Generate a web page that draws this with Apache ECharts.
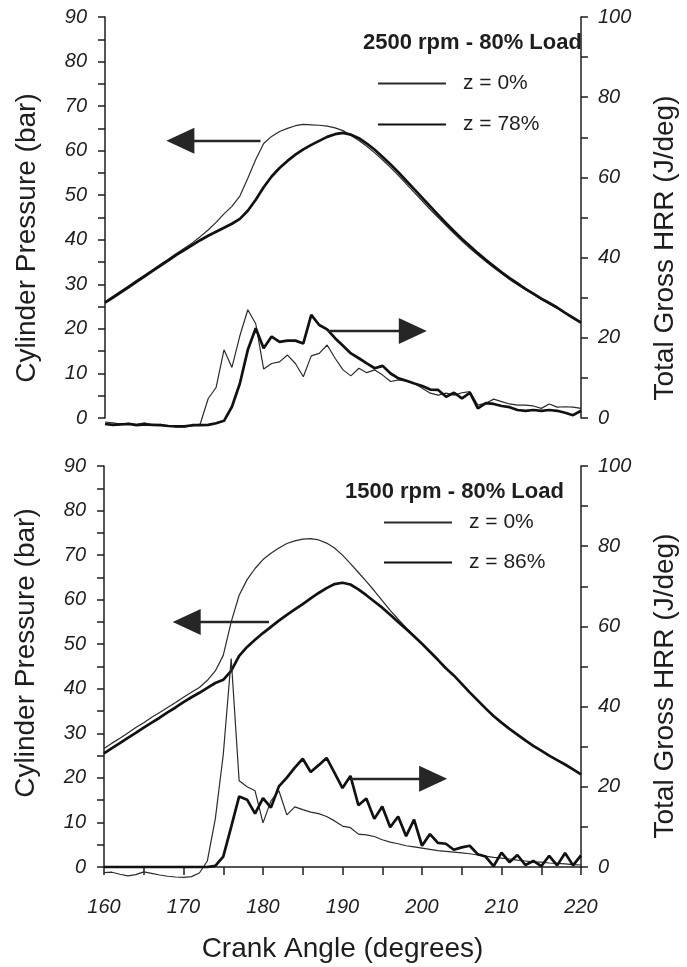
<!DOCTYPE html>
<html><head><meta charset="utf-8">
<script src="https://cdn.jsdelivr.net/npm/echarts@6/dist/echarts.min.js"></script>
<style>html,body{margin:0;padding:0;background:#fff}#c{width:687px;height:967px}</style>
</head><body><div id="c"></div>
<script>
// Crank angle (degrees)
const crankAngle = [160,161,162,163,164,165,166,167,168,169,170,171,172,173,174,175,176,177,178,179,180,181,182,183,184,185,186,187,188,189,190,191,192,193,194,195,196,197,198,199,200,201,202,203,204,205,206,207,208,209,210,211,212,213,214,215,216,217,218,219,220];

// Top panel: 2500 rpm - 80% Load
const topPressure0 = [26.1,27.3,28.5,29.7,30.9,32.1,33.3,34.5,35.7,36.9,38.1,39.3,40.7,42.2,43.9,45.8,47.5,49.8,53.8,58.0,61.6,63.2,64.3,65.0,65.6,65.9,65.8,65.7,65.5,65.1,64.5,63.4,62.3,61.0,59.5,57.9,56.2,54.4,52.5,50.6,48.7,46.8,45.0,43.2,41.4,39.7,38.1,36.6,35.1,33.7,32.4,31.1,29.9,28.8,27.7,26.6,25.6,24.6,23.5,22.4,21.3];
const topPressure78 = [25.9,27.0,28.2,29.4,30.6,31.8,33.0,34.2,35.4,36.6,37.7,38.8,39.9,40.9,41.8,42.7,43.6,44.7,46.5,49.0,51.8,54.2,56.1,57.7,59.1,60.3,61.3,62.2,63.1,63.7,64.0,63.6,62.8,61.6,60.2,58.6,56.9,55.1,53.2,51.3,49.4,47.5,45.6,43.7,41.9,40.2,38.6,37.0,35.5,34.1,32.7,31.4,30.2,29.0,27.9,26.8,25.8,24.8,23.6,22.5,21.4];
const topHRR0 = [-1.0,-1.2,-1.5,-1.3,-1.6,-1.2,-1.8,-1.6,-2.0,-2.2,-2.2,-2.0,-1.5,4.8,7.6,17.0,12.6,20.5,27.0,23.5,12.2,13.6,14.0,15.7,13.6,10.3,15.5,16.1,18.2,14.9,12.0,10.5,12.4,11.3,12.0,10.7,9.1,9.5,9.2,8.6,7.4,6.2,5.7,6.2,5.7,6.3,6.6,3.2,3.7,4.7,4.1,3.5,3.2,3.2,3.0,2.4,3.5,2.7,2.8,2.7,2.4];
const topHRR78 = [-1.5,-1.7,-1.6,-1.5,-1.8,-1.6,-1.7,-1.8,-2.0,-2.1,-2.1,-1.8,-1.8,-1.7,-1.3,-0.7,2.8,8.6,17.0,22.4,17.4,20.3,19.0,19.3,19.3,18.6,25.7,23.2,22.1,19.9,18.0,16.1,14.9,13.6,12.4,13.0,11.1,9.9,9.3,8.6,8.0,7.1,7.0,5.3,6.3,4.9,6.3,2.4,3.7,3.5,3.0,2.7,2.0,1.8,2.0,1.8,2.0,1.8,1.3,0.7,1.8];

// Bottom panel: 1500 rpm - 80% Load
const botPressure0 = [26.6,27.8,28.9,30.1,31.3,32.4,33.6,34.7,35.8,36.9,38.1,39.2,40.3,41.9,44.0,47.5,55.0,61.0,64.5,67.0,69.0,70.4,71.6,72.6,73.2,73.6,73.7,73.4,72.7,71.6,70.0,68.1,66.1,64.1,62.0,59.8,57.6,55.6,53.7,51.9,50.2,48.4,46.6,44.7,43.0,41.1,39.2,37.4,35.6,33.9,32.4,31.0,29.7,28.4,27.2,26.1,25.0,24.0,23.0,21.9,20.8];
const botPressure86 = [25.5,26.7,27.8,29.0,30.1,31.3,32.4,33.5,34.7,35.8,37.0,38.1,39.1,40.2,41.3,42.0,44.0,47.4,49.4,51.0,52.5,53.9,55.3,56.6,57.8,59.0,60.3,61.5,62.6,63.5,63.8,63.4,62.3,61.0,59.6,58.2,56.6,55.0,53.4,51.8,50.1,48.3,46.5,44.6,43.0,41.1,39.2,37.4,35.6,33.9,32.4,31.0,29.7,28.4,27.2,26.1,25.0,24.0,23.0,21.9,20.8];
const botHRR0 = [-1.4,-1.3,-1.8,-2.2,-1.9,-1.2,-1.6,-2.0,-2.3,-2.5,-2.6,-2.4,-1.5,1.5,12.0,28.0,52.0,21.5,20.0,19.0,11.0,16.5,19.0,13.0,15.0,14.3,13.7,13.3,12.6,11.5,10.2,9.8,8.2,8.0,7.6,6.8,6.2,5.8,5.3,5.0,4.7,4.4,4.1,3.9,3.7,3.5,3.3,3.0,2.7,2.4,2.2,2.0,1.7,1.5,1.3,1.2,1.0,0.9,0.8,0.6,0.5];
const botHRR86 = [0,0,0,0,0,0,0,0,0,0,0,0,0,0,0.3,2.6,10.0,17.6,16.8,13.3,17.2,14.8,20.1,22.3,24.8,27.0,23.7,25.4,27.2,23.5,19.7,22.7,15.4,17.1,12.0,15.1,9.9,12.6,7.7,11.8,5.3,8.2,6.0,5.8,4.3,4.9,5.3,3.2,2.6,0.2,3.6,1.2,3.0,0.5,1.5,0.2,2.8,0.4,3.5,0.4,2.9];

// Arrow annotations [crank angle, pressure] (start, end)
const topArrowLeft = [[179.6, 62.2], [169.5, 62.2]];
const topArrowRight = [[188.1, 19.5], [198.8, 19.5]];
const botArrowLeft = [[180.75, 55.0], [170.4, 55.0]];
const botArrowRight = [[191.0, 19.8], [201.4, 19.8]];

const FONT = "'Liberation Sans', Arial, Helvetica, sans-serif";
const INK = '#1e1e1e';
const thinStyle = {color: '#2b2b2b', width: 1.2};
const thickStyle = {color: '#111111', width: 2.7};

function pairs(ys) { return crankAngle.map((x, i) => [x, ys[i]]); }
function arrow(seg) { return [{coord: seg[0]}, {coord: seg[1]}]; }

function line(name, ys, style, xi, yi, extra) {
  return Object.assign({
    name, type: 'line', xAxisIndex: xi, yAxisIndex: yi, data: pairs(ys),
    showSymbol: false, symbol: 'none', clip: false, smooth: false,
    lineStyle: style, itemStyle: {color: style.color},
    emphasis: {disabled: true}, silent: true
  }, extra || {});
}

function arrows(list) {
  return {
    markLine: {
      silent: true, animation: false,
      symbol: ['none', 'triangle'], symbolSize: [26, 28],
      label: {show: false},
      emphasis: {disabled: true},
      lineStyle: {type: 'solid', color: '#262626', width: 2.4},
      itemStyle: {color: '#262626'},
      data: list.map(arrow)
    }
  };
}

const tickLine = {color: INK, width: 1.5};

function pressureAxis(gi, pad) {
  return {
    type: 'value', gridIndex: gi, position: 'left', min: 0, max: 90, interval: 10,
    axisLine: {show: true, onZero: false, lineStyle: tickLine},
    axisTick: {show: true, length: 7, lineStyle: tickLine},
    minorTick: {show: true, splitNumber: 2, length: 7, lineStyle: tickLine},
    splitLine: {show: false}, minorSplitLine: {show: false},
    axisLabel: {fontFamily: FONT, fontStyle: 'italic', fontSize: 20, color: INK, margin: 18},
    name: 'Cylinder Pressure (bar)', nameLocation: 'middle', nameGap: 64,
    nameTextStyle: {fontFamily: FONT, fontSize: 28, color: INK, padding: pad}
  };
}
function hrrAxis(gi, pad) {
  return {
    type: 'value', gridIndex: gi, position: 'right', min: 0, max: 100, interval: 20,
    axisLine: {show: true, onZero: false, lineStyle: tickLine},
    axisTick: {show: true, length: 7, lineStyle: tickLine},
    minorTick: {show: true, splitNumber: 2, length: 7, lineStyle: tickLine},
    splitLine: {show: false}, minorSplitLine: {show: false},
    axisLabel: {fontFamily: FONT, fontStyle: 'italic', fontSize: 20, color: INK, margin: 17},
    name: 'Total Gross HRR (J/deg)', nameLocation: 'middle', nameGap: 70,
    nameTextStyle: {fontFamily: FONT, fontSize: 28, color: INK, padding: pad}
  };
}

const legendBase = {
  orient: 'vertical', itemWidth: 68, itemHeight: 20, itemGap: 20, padding: 0,
  selectedMode: false,
  itemStyle: {color: 'rgba(0,0,0,0)', borderColor: 'rgba(0,0,0,0)', borderWidth: 0, opacity: 0},
  textStyle: {fontFamily: FONT, fontSize: 21, color: INK, padding: [0, 0, 0, 12]}
};

const option = {
  animation: false,
  backgroundColor: '#ffffff',
  title: [
    {text: '2500 rpm - 80% Load', left: 363, top: 32, padding: 0,
     textStyle: {fontFamily: FONT, fontSize: 22, fontWeight: 'bold', color: INK}},
    {text: '1500 rpm - 80% Load', left: 345, top: 481, padding: 0,
     textStyle: {fontFamily: FONT, fontSize: 22, fontWeight: 'bold', color: INK}}
  ],
  legend: [
    Object.assign({}, legendBase, {left: 377, top: 73, data: ['z = 0%', 'z = 78%']}),
    Object.assign({}, legendBase, {left: 383, top: 512, itemGap: 19, data: ['z = 0%', 'z = 86%']})
  ],
  grid: [
    {left: 105, top: 17, width: 480, height: 401, containLabel: false},
    {left: 104, top: 466, width: 479.5, height: 401, containLabel: false}
  ],
  xAxis: [
    {type: 'value', gridIndex: 0, min: 160, max: 220, interval: 10, show: false},
    {type: 'value', gridIndex: 1, min: 160, max: 220, interval: 10,
     axisLine: {show: true, onZero: false, lineStyle: tickLine},
     axisTick: {show: true, length: 8, lineStyle: tickLine},
     minorTick: {show: true, splitNumber: 2, length: 8, lineStyle: tickLine},
     splitLine: {show: false},
     axisLabel: {fontFamily: FONT, fontStyle: 'italic', fontSize: 20, color: INK, margin: 30},
     name: 'Crank Angle (degrees)', nameLocation: 'middle', nameGap: 68,
     nameTextStyle: {fontFamily: FONT, fontSize: 28, color: INK}}
  ],
  yAxis: [
    pressureAxis(0, [0, 41, 0, 0]),
    hrrAxis(0, [0, 61, 0, 0]),
    pressureAxis(1, [0, 0, 0, 27]),
    hrrAxis(1, [0, 39, 0, 0])
  ],
  series: [
    line('z = 0%', topPressure0, thinStyle, 0, 0, arrows([topArrowLeft, topArrowRight])),
    line('z = 78%', topPressure78, thickStyle, 0, 0),
    line('z = 0%', topHRR0, thinStyle, 0, 1),
    line('z = 78%', topHRR78, thickStyle, 0, 1),
    line('z = 0%', botPressure0, thinStyle, 1, 2, arrows([botArrowLeft, botArrowRight])),
    line('z = 86%', botPressure86, thickStyle, 1, 2),
    line('z = 0%', botHRR0, thinStyle, 1, 3),
    line('z = 86%', botHRR86, thickStyle, 1, 3)
  ]
};

const chart = echarts.init(document.getElementById('c'), null, {renderer: 'canvas'});
chart.setOption(option);
</script></body></html>
